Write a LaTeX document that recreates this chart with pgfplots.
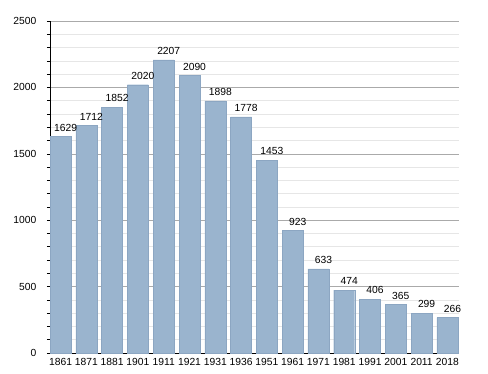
\documentclass[border=0pt]{standalone}
\usepackage{fontspec}
\setmainfont{Liberation Sans}
\usepackage{pgfplots}
\pgfplotsset{compat=1.18}
\definecolor{barfill}{RGB}{154,180,206}
\definecolor{baredge}{RGB}{140,166,194}
\definecolor{majgrid}{RGB}{170,170,170}
\definecolor{mingrid}{RGB}{230,230,230}
\begin{document}
\fontsize{10.3}{12}\selectfont
\begin{tikzpicture}
\begin{axis}[
  scale only axis,
  width=409pt, height=332pt,
  xmin=-0.41, xmax=15.45,
  ymin=0, ymax=2500,
  axis lines*=left,
  axis line style={black, line width=0.8pt},
  xtick=data,
  xticklabels={1861,1871,1881,1901,1911,1921,1931,1936,1951,1961,1971,1981,1991,2001,2011,2018},
  x tick style={draw=none},
  x tick label style={yshift=1pt},
  ytick={0,500,1000,1500,2000,2500},
  minor y tick num=4,
  ymajorgrids, yminorgrids,
  major grid style={majgrid, line width=0.6pt},
  minor grid style={mingrid, line width=0.6pt},
  y tick style={black, line width=0.6pt},
  major tick length=3pt, minor tick length=3pt,
  tick align=outside,
  y tick label style={xshift=-7pt},
  /pgf/number format/assume math mode=true,
  /pgf/number format/1000 sep={},
  ybar, bar width=21pt,
  nodes near coords,
  every node near coord/.append style={font=\fontsize{10.3}{12}\selectfont, inner sep=2pt, yshift=3pt, xshift=5pt},
  clip=false,
  tick label style={font=\fontsize{10.3}{12}\selectfont},
]
\addplot[fill=barfill, draw=baredge, line width=0.4pt] coordinates {
(0,1629) (1,1712) (2,1852) (3,2020) (4,2207) (5,2090) (6,1898) (7,1778)
(8,1453) (9,923) (10,633) (11,474) (12,406) (13,365) (14,299) (15,266)};
\end{axis}
\path[use as bounding box] (-50pt,-20pt) rectangle (438pt,353pt);
\end{tikzpicture}
\end{document}
